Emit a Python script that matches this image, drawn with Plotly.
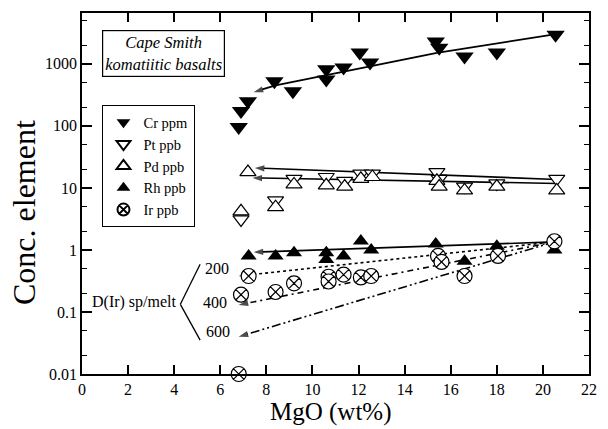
import plotly.graph_objects as go

# ---------------- data ----------------
cr_x = [6.8, 6.9, 7.2, 8.35, 9.15, 10.6, 10.6, 11.35, 12.05, 12.5, 15.35, 15.5, 16.6, 18.0, 20.55]
cr_y = [96, 174, 250, 525, 363, 815, 560, 875, 1520, 1050, 2290, 1820, 1320, 1520, 2950]

pt_x = [6.9, 8.4, 9.2, 10.6, 11.4, 12.1, 12.6, 15.4, 15.5, 16.6, 18.0, 20.6]
pt_y = [3.1, 6.3, 14, 15, 13, 17, 17, 18, 14, 10.5, 11.8, 14]

pd_x = [7.2, 6.9, 8.4, 9.2, 10.6, 11.4, 12.1, 12.6, 15.4, 15.5, 16.6, 18.0, 20.6]
pd_y = [18, 4.2, 4.9, 11.4, 11, 10.5, 14, 15, 13, 10.5, 9.1, 10.5, 9.1]

rh_x = [7.23, 8.4, 9.2, 10.6, 10.6, 11.35, 12.1, 12.55, 15.35, 16.6, 18.0, 20.5]
rh_y = [0.8, 0.8, 0.9, 0.9, 0.7, 0.8, 1.4, 1.0, 1.25, 0.66, 1.15, 1.0]

ir_x = [7.23, 6.9, 8.4, 9.2, 10.7, 10.7, 11.35, 12.1, 12.55, 15.45, 15.6, 16.6, 18.05, 20.5, 6.8]
ir_y = [0.38, 0.19, 0.21, 0.29, 0.37, 0.31, 0.40, 0.36, 0.38, 0.80, 0.64, 0.38, 0.80, 1.38, 0.01]

# model / fit lines (drawn from right to the arrow end on the left)
cr_line_x = [20.5, 15.4, 8.4, 7.45]
cr_line_y = [3000, 1500, 450, 350]
pgeA_line_x = [20.6, 7.5]
pgeA_line_y = [13.7, 21]
pgeB_line_x = [20.6, 7.4]
pgeB_line_y = [11.8, 14.5]
rh_line_x = [20.5, 7.45]
rh_line_y = [1.35, 0.92]
ir200_x = [20.5, 6.8]
ir200_y = [1.35, 0.38]
ir400_x = [20.5, 6.8]
ir400_y = [1.35, 0.13]
ir600_x = [20.5, 6.8]
ir600_y = [1.35, 0.04]

x_ticks = list(range(0, 23, 2))
y_tickvals = [0.01, 0.1, 1, 10, 100, 1000]
y_ticktext = ["0.01", "0.1", "1", "10", "100", "1000"]
d_labels = ["200", "400", "600"]

FONT = "Liberation Serif"

fig = go.Figure()

def arrow_line(x, y, dash="solid", width=1.6):
    n = len(x)
    fig.add_trace(go.Scatter(
        x=x, y=y, mode="lines+markers", showlegend=False, hoverinfo="skip",
        line=dict(color="black", width=width, dash=dash),
        marker=dict(symbol="arrow", size=[0] * (n - 1) + [10], color="black",
                    angleref="previous", line=dict(width=0)),
    ))

arrow_line(cr_line_x, cr_line_y, width=1.8)
arrow_line(pgeA_line_x, pgeA_line_y, width=1.6)
arrow_line(pgeB_line_x, pgeB_line_y, width=1.6)
arrow_line(rh_line_x, rh_line_y, width=1.6)
arrow_line(ir200_x, ir200_y, dash="dot", width=1.6)
arrow_line(ir400_x, ir400_y, dash="6px,4px,2px,4px", width=1.6)
arrow_line(ir600_x, ir600_y, dash="9px,3px,2px,3px,2px,3px", width=1.6)

fig.add_trace(go.Scatter(x=cr_x, y=cr_y, mode="markers", name="Cr ppm",
                         marker=dict(symbol="triangle-down", size=16, color="black")))
fig.add_trace(go.Scatter(x=pt_x, y=pt_y, mode="markers", name="Pt ppb",
                         marker=dict(symbol="triangle-down", size=14, color="white",
                                     line=dict(color="black", width=1.2))))
fig.add_trace(go.Scatter(x=pd_x, y=pd_y, mode="markers", name="Pd ppb",
                         marker=dict(symbol="triangle-up", size=14, color="white",
                                     line=dict(color="black", width=1.2))))
fig.add_trace(go.Scatter(x=rh_x, y=rh_y, mode="markers", name="Rh ppb",
                         marker=dict(symbol="triangle-up", size=14, color="black")))
fig.add_trace(go.Scatter(x=ir_x, y=ir_y, mode="markers", name="Ir ppb", cliponaxis=False,
                         marker=dict(symbol="circle-x", size=15, color="white",
                                     line=dict(color="black", width=1.2))))

axis_common = dict(showline=True, linecolor="black", linewidth=1.8, mirror="ticks",
                   ticks="inside", tickcolor="black", showgrid=False, zeroline=False,
                   tickfont=dict(family=FONT, size=16, color="black"))

fig.update_xaxes(range=[0, 22], tickvals=x_ticks, ticklen=9, tickwidth=1.5, **axis_common)
fig.update_yaxes(type="log", range=[-2, 3.82], tickvals=y_tickvals, ticktext=y_ticktext,
                 ticklen=10, tickwidth=1.5,
                 minor=dict(ticks="inside", ticklen=5, tickcolor="black", tickwidth=1,
                            showgrid=False),
                 **axis_common)

def ann(text, x, y, size, **kw):
    return dict(text=text, xref="paper", yref="paper", x=x, y=y, showarrow=False,
                xanchor="center", yanchor="middle",
                font=dict(family=FONT, size=size, color="black"), **kw)

annotations = [
    ann("<i>Cape Smith<br>komatiitic basalts</i>", 0.161, 0.889, 16.5,
        bordercolor="black", borderwidth=1.2, borderpad=2, bgcolor="white"),
    ann("D(Ir) sp/melt", 0.103, 0.199, 16),
    ann("MgO (wt%)", 0.491, -0.106, 25),
    ann("Conc. element", -0.113, 0.448, 32, textangle=-90),
]
label_pos = [(0.266, 0.293), (0.262, 0.199), (0.268, 0.119)]
for lab, (px, py) in zip(d_labels, label_pos):
    annotations.append(ann(lab, px, py, 16))

shapes = [
    dict(type="line", xref="paper", yref="paper", x0=0.194, y0=0.193, x1=0.233, y1=0.304,
         line=dict(color="black", width=1.3)),
    dict(type="line", xref="paper", yref="paper", x0=0.194, y0=0.193, x1=0.233, y1=0.094,
         line=dict(color="black", width=1.3)),
]

fig.update_layout(
    width=608, height=429,
    margin=dict(l=82, r=11, t=12, b=55),
    paper_bgcolor="white", plot_bgcolor="white",
    font=dict(family=FONT, color="black"),
    annotations=annotations, shapes=shapes,
    legend=dict(x=0.04, y=0.745, xanchor="left", yanchor="top",
                bordercolor="black", borderwidth=1.2, bgcolor="white",
                font=dict(family=FONT, size=14.5, color="black"),
                itemsizing="constant", tracegroupgap=0),
)

fig.write_html("out.html", config={"displayModeBar": False},
               post_script="document.body.style.margin='0';document.body.style.overflow='hidden';")
